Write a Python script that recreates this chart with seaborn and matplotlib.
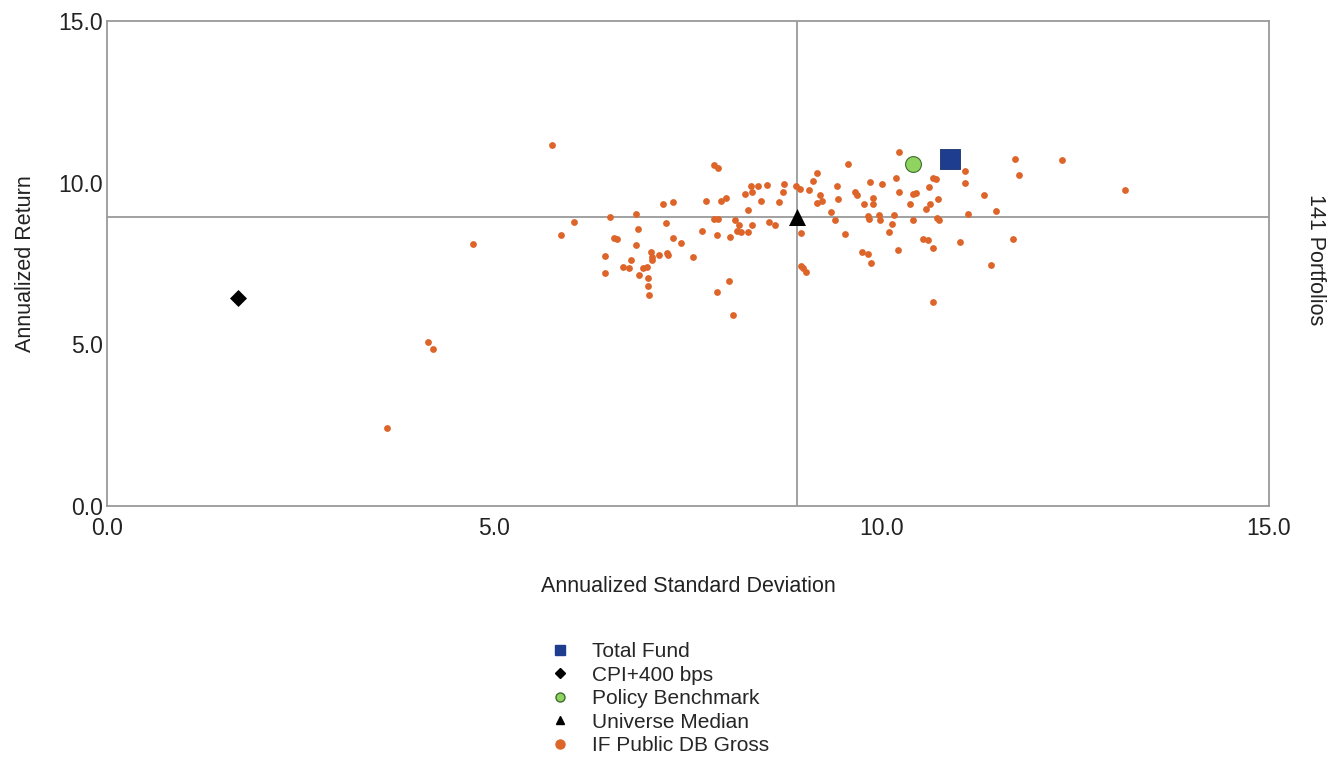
import matplotlib
matplotlib.use("Agg")
import matplotlib.pyplot as plt
from matplotlib.lines import Line2D
import seaborn as sns

# universe of portfolios (annualized std dev, annualized return)
universe_sd = [
    5.75, 6.03, 5.86, 4.72, 6.49, 6.83, 6.86, 6.54, 6.58, 6.83, 6.43, 6.43, 6.66,
    6.74, 6.77, 7.02, 7.03, 7.04, 7.13, 6.92, 6.97, 6.87, 6.98, 6.99, 7.00,
    7.18, 7.30, 7.22, 7.31, 7.41, 7.24, 7.23, 7.57, 7.73, 7.68, 7.84, 7.89, 7.93,
    7.99, 7.84, 7.89, 7.88, 8.04, 7.87, 8.03, 8.08, 8.11, 8.16, 8.13, 8.18, 8.27,
    8.27, 8.24, 8.33, 8.31, 8.40, 8.52, 8.33, 8.44, 8.54, 8.62, 8.68, 8.72, 8.74,
    8.89, 8.95, 8.96, 8.96, 8.99, 9.02, 9.06, 9.12, 9.16, 9.20, 9.17, 9.23, 9.34,
    9.40, 9.42, 9.44, 9.53, 9.57, 9.66, 9.68, 9.77, 9.74, 9.83, 9.86, 9.83, 9.84,
    9.85, 9.89, 9.89, 9.97, 9.98, 10.00, 10.09, 10.13, 10.16, 10.19, 10.22, 10.23,
    10.21, 10.40, 10.44, 10.37, 10.40, 10.57, 10.62, 10.61, 10.66, 10.70, 10.54,
    10.60, 10.66, 10.66, 10.73, 10.72, 10.74,
    11.08, 11.07, 11.12, 11.01, 11.32, 11.47, 11.41, 11.72, 11.77, 11.70, 12.33,
    13.14, 4.15, 4.21, 3.61,
]
universe_ret = [
    11.17, 8.79, 8.38, 8.09, 8.93, 9.03, 8.56, 8.28, 8.27, 8.07, 7.74, 7.22, 7.40,
    7.37, 7.62, 7.85, 7.71, 7.61, 7.76, 7.35, 7.40, 7.14, 7.06, 6.80, 6.52,
    9.35, 9.40, 8.74, 8.28, 8.14, 7.76, 7.82, 7.70, 9.44, 8.52, 10.54, 10.45, 9.44,
    9.54, 8.89, 8.89, 8.37, 8.33, 6.61, 6.97, 5.92, 8.83, 8.68, 8.52, 8.47, 8.47,
    9.16, 9.66, 9.70, 9.91, 9.91, 9.92, 8.69, 9.42, 8.78, 8.68, 9.39, 9.70, 9.97,
    9.90, 9.81, 8.44, 7.42, 7.35, 7.25, 9.76, 10.05, 10.31, 9.63, 9.38, 9.42, 9.08,
    8.84, 9.90, 9.50, 8.42, 10.57, 9.72, 9.61, 9.33, 7.86, 7.80, 7.53, 8.97, 8.87,
    10.02, 9.52, 9.33, 8.99, 8.83, 9.97, 8.47, 8.72, 8.99, 10.15, 10.94, 9.71,
    7.91, 9.66, 9.68, 9.34, 8.85, 9.18, 9.34, 9.88, 10.14, 10.12, 8.27,
    8.23, 7.98, 6.30, 9.50, 8.90, 8.85,
    10.37, 9.98, 9.02, 8.18, 9.61, 9.13, 7.45, 10.74, 10.24, 8.26, 10.69,
    9.78, 5.08, 4.86, 2.40,
]

total_fund = (10.88, 10.73)
cpi_400 = (1.69, 6.43)
policy_bm = (10.41, 10.57)
univ_median = (8.91, 8.94)
n_portfolios = 141

orange = "#DE6529"
navy = "#1F3D8F"
green = "#8FD460"
grey = "#9A9A9A"

sns.set_style("white")
plt.rcParams["font.family"] = ["Liberation Sans", "DejaVu Sans"]

fig = plt.figure(figsize=(13.41, 7.70), dpi=100)
ax = fig.add_axes([107 / 1341, 1 - 506 / 770, (1269 - 107) / 1341, (506 - 21) / 770])

# median cross-hairs
ax.axhline(univ_median[1], color=grey, lw=1.3, zorder=1)
ax.axvline(univ_median[0], color=grey, lw=1.3, zorder=1)

sns.scatterplot(x=universe_sd, y=universe_ret, ax=ax, color=orange,
                s=24, linewidth=0, zorder=3)
sns.scatterplot(x=[cpi_400[0]], y=[cpi_400[1]], ax=ax, marker="D", color="black",
                s=75, linewidth=0, zorder=4)
sns.scatterplot(x=[univ_median[0]], y=[univ_median[1]], ax=ax, marker="^",
                color="black", s=150, linewidth=0, zorder=5)
sns.scatterplot(x=[policy_bm[0]], y=[policy_bm[1]], ax=ax, marker="o",
                color=green, edgecolor="#3F6B2E", s=130, linewidth=0.8, zorder=5)
sns.scatterplot(x=[total_fund[0]], y=[total_fund[1]], ax=ax, marker="s",
                color=navy, edgecolor="#16306e", s=200, linewidth=0.6, zorder=6)

ax.set_xlim(0, 15)
ax.set_ylim(0, 15)
ax.set_xticks([0, 5, 10, 15])
ax.set_yticks([0, 5, 10, 15])
ax.set_xticklabels(["0.0", "5.0", "10.0", "15.0"])
ax.set_yticklabels(["0.0", "5.0", "10.0", "15.0"])
ax.tick_params(axis="both", direction="in", length=5, width=1, color=grey,
               labelsize=16.5, labelcolor="#222222", pad=3)
ax.tick_params(axis="x", pad=8)
for sp in ax.spines.values():
    sp.set_color(grey)
    sp.set_linewidth(1.3)

ax.set_xlabel("Annualized Standard Deviation", fontsize=15.5, color="#222222",
              labelpad=26)
ax.set_ylabel("Annualized Return", fontsize=15.5, color="#222222", labelpad=16)
fig.text(1316 / 1341, 1 - 260 / 770, f"{n_portfolios} Portfolios", rotation=270,
         fontsize=15.5, color="#222222", ha="center", va="center")

# legend in the reference order
handles = [
    Line2D([], [], ls="", marker="s", color=navy, markersize=6.5),
    Line2D([], [], ls="", marker="D", color="black", markersize=5),
    Line2D([], [], ls="", marker="o", color=green, markeredgecolor="#3F6B2E",
           markersize=6.5),
    Line2D([], [], ls="", marker="^", color="black", markersize=6),
    Line2D([], [], ls="", marker="o", color=orange, markersize=6.5),
]
labels = ["Total Fund", "CPI+400 bps", "Policy Benchmark", "Universe Median",
          "IF Public DB Gross"]
fig.legend(handles, labels, loc="upper left",
           bbox_to_anchor=(550 / 1341, 1 - 642 / 770), frameon=False,
           fontsize=15, handlelength=1.0, handletextpad=1.0, labelspacing=0.22,
           borderaxespad=0, borderpad=0)

fig.savefig("out.png", dpi=100)
